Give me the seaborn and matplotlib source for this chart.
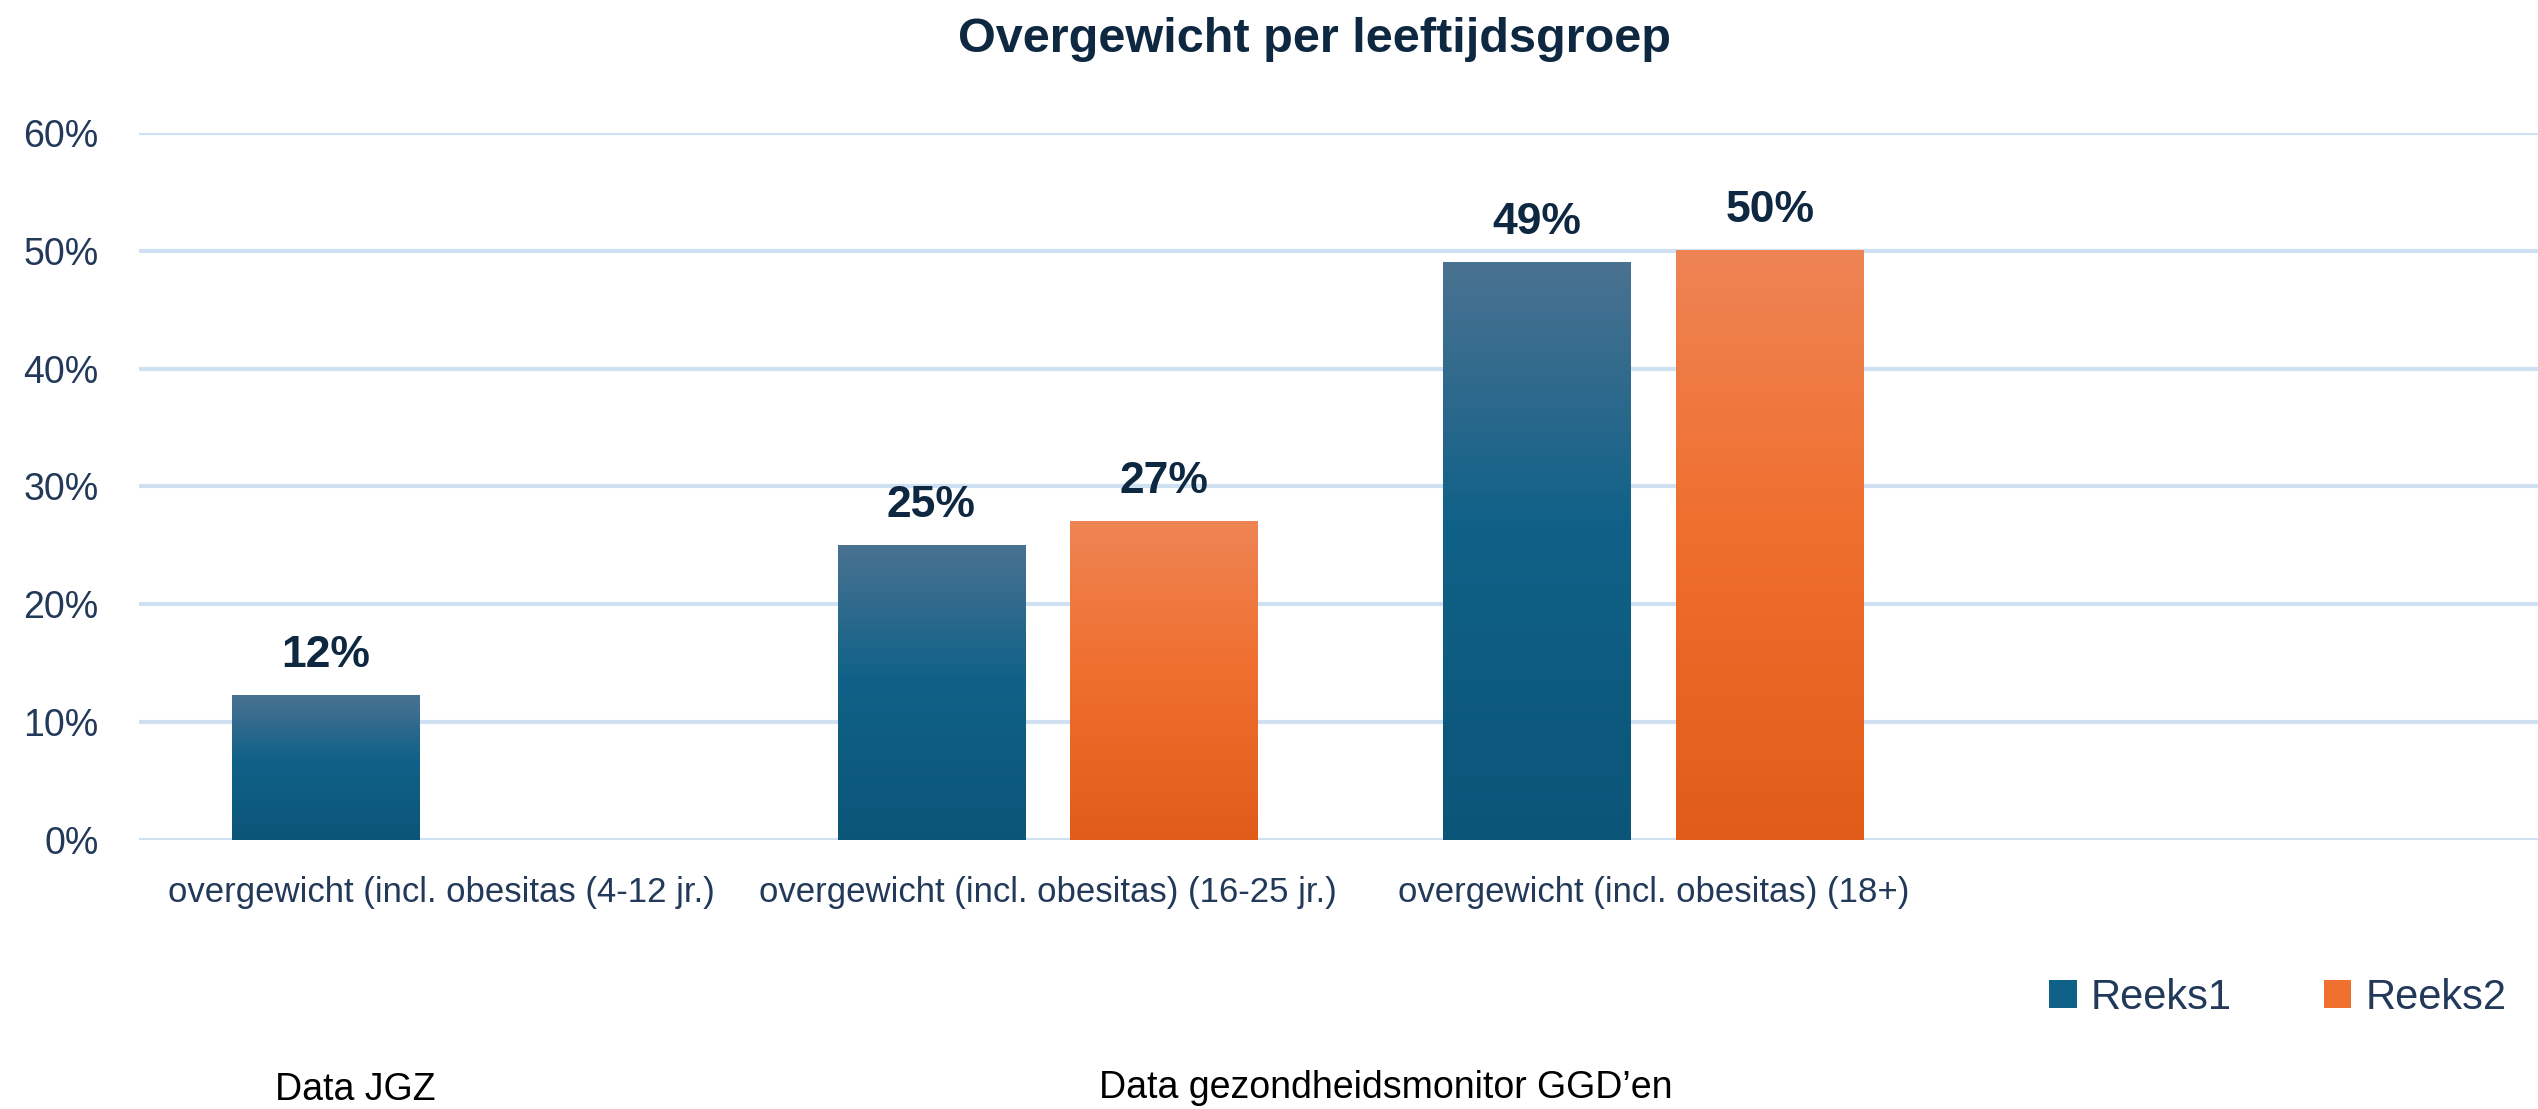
import numpy as np
import pandas as pd
import seaborn as sns
import matplotlib.pyplot as plt
from matplotlib.colors import LinearSegmentedColormap
from matplotlib.patches import Patch
from matplotlib.ticker import PercentFormatter

# data
categories = [
    "overgewicht (incl. obesitas (4-12 jr.)",
    "overgewicht (incl. obesitas) (16-25 jr.)",
    "overgewicht (incl. obesitas) (18+)",
]
series = ["Reeks1", "Reeks2"]
reeks1 = [0.123, 0.25, 0.49]
reeks2 = [np.nan, 0.27, 0.50]
yticks = [0.0, 0.1, 0.2, 0.3, 0.4, 0.5, 0.6]

rows = []
for cat, v1, v2 in zip(categories, reeks1, reeks2):
    rows.append((cat, "Reeks1", v1))
    rows.append((cat, "Reeks2", v2))
df = pd.DataFrame(rows, columns=["groep", "reeks", "waarde"]).dropna()

navy = "#0e2841"
tick_col = "#22395a"
grid_col = "#cfe0f2"
# gradient stops (top -> bottom)
grad_colors = {
    "Reeks1": ["#4a7291", "#106188", "#0b5578"],
    "Reeks2": ["#ee8454", "#f07030", "#e05c18"],
}

sns.set_theme(style="white")
plt.rcParams["font.family"] = ["Liberation Sans", "DejaVu Sans"]

W, H = 2538, 1109
fig = plt.figure(figsize=(W / 100, H / 100), dpi=100)
ax = fig.add_axes([139 / W, (H - 840) / H, (W - 139) / W, (840 - 133) / H])

sns.barplot(data=df, x="groep", y="waarde", hue="reeks", order=categories,
            hue_order=series, width=0.769, gap=0.197, legend=False,
            palette=[grad_colors[s][1] for s in series], ax=ax,
            errorbar=None, saturation=1)

# gradient fill for each bar
grad = np.linspace(0, 1, 256).reshape(-1, 1)
for name, cont in zip(series, ax.containers):
    cmap = LinearSegmentedColormap.from_list(
        name, list(zip([0, 0.45, 1], grad_colors[name])))
    for bar in cont:
        x, w, h = bar.get_x(), bar.get_width(), bar.get_height()
        ax.imshow(grad, cmap=cmap, extent=[x, x + w, 0, h], origin="upper",
                  aspect="auto", zorder=2, interpolation="bicubic")
        bar.set_facecolor("none")
        bar.set_edgecolor("none")
    ax.bar_label(cont, fmt="{:.0%}", padding=14, fontsize=32,
                 fontweight="bold", color=navy)

ax.set_xlim(-0.5, -0.5 + 2399 / 605.7)
ax.set_ylim(0, 0.6)
ax.set_yticks(yticks)
ax.yaxis.set_major_formatter(PercentFormatter(1.0, decimals=0))
ax.grid(axis="y", color=grid_col, linewidth=3)
ax.set_axisbelow(True)
for s in ax.spines.values():
    s.set_visible(False)
ax.tick_params(axis="y", length=0, pad=29, labelsize=27, labelcolor=tick_col)
ax.tick_params(axis="x", length=0, pad=26, labelsize=25, labelcolor=tick_col)
ax.set_xlabel("")
ax.set_ylabel("")

fig.text(1315 / W, 1 - 52 / H, "Overgewicht per leeftijdsgroep",
         ha="center", va="baseline", fontsize=35, fontweight="bold",
         color=navy)

handles = [Patch(facecolor=grad_colors[s][1], edgecolor="none") for s in series]
fig.legend(handles, series, loc="center", bbox_to_anchor=(2278 / W, 1 - 998 / H),
           ncol=2, frameon=False, fontsize=30, labelcolor=tick_col,
           handlelength=0.65, handleheight=0.65, handletextpad=0.35,
           columnspacing=2.2)

fig.text(355 / W, 1 - 1100 / H, "Data JGZ", ha="center", va="baseline",
         fontsize=27, color="black")
fig.text(1386 / W, 1 - 1098 / H, "Data gezondheidsmonitor GGD\u2019en",
         ha="center", va="baseline", fontsize=27, color="black")

fig.savefig("out.png", dpi=100)
